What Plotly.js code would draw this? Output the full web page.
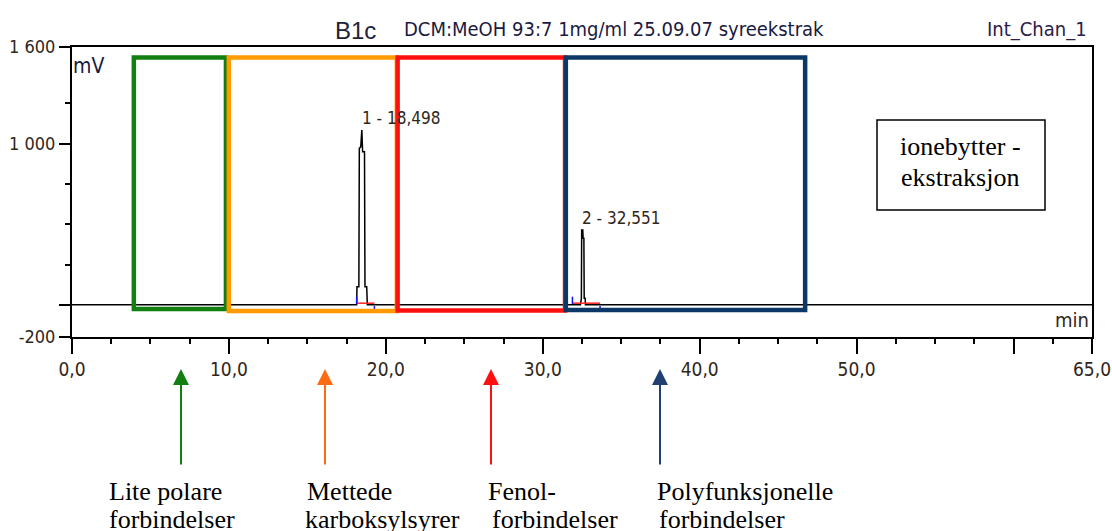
<!DOCTYPE html>
<html><head><meta charset="utf-8">
<script src="https://cdn.plot.ly/plotly-3.0.1.min.js"></script>
<style>html,body{margin:0;padding:0;background:#fff;}#chart{width:1112px;height:531px;}</style>
</head><body><div id="chart"></div>
<script>
// ---- chromatogram data (min, mV) ----
const timeMin  = [0, 18.14, 18.16, 18.28, 18.31, 18.40, 18.47, 18.52, 18.64, 18.67, 18.78, 18.82, 32.40, 32.46, 32.48, 32.55, 32.57, 32.62, 32.64, 32.70, 32.72, 65];
const signalMV = [0, 0, 112, 112, 971, 980, 1085, 950, 950, 112, 112, 0, 0, 40, 464, 464, 413, 413, 40, 40, 0, 0];

// ---- peaks ----
const peakNumbers = [1, 2];
const peakTimes   = [18.498, 32.551];
const peakApexT   = [18.47, 32.48];
const peakHeights = [1085, 464];
const integStart  = [18.14, 31.89];
const integEnd    = [19.27, 33.65];

// ---- fraction regions ----
const regionStart  = [3.94, 9.99, 20.75, 31.47];
const regionEnd    = [9.81, 20.70, 31.42, 46.72];
const regionTop    = [1535, 1535, 1535, 1535];
const regionBottom = [-26, -38, -35, -32];
const regionLine1  = ["Lite polare", "Mettede", "Fenol-", "Polyfunksjonelle"];
const regionLine2  = ["forbindelser", "karboksylsyrer", "forbindelser", "forbindelser"];

// ---- axis ticks ----
const xTickVals  = [0, 10, 20, 30, 40, 50, 60, 65];
const xTickText  = ["0,0", "10,0", "20,0", "30,0", "40,0", "50,0", "", "65,0"];
const xMinorVals = [2.5, 5, 7.5, 12.5, 15, 17.5, 22.5, 25, 27.5, 32.5, 35, 37.5, 42.5, 45, 47.5, 52.5, 55, 57.5, 62.5];
const yTickVals  = [1600, 1000, 0, -200];
const yTickText  = ["1 600", "1 000", "", "-200"];
const yMinorVals = [1250, 750, 500, 250];

// ---- texts ----
const sampleName = "B1c";
const sampleInfo = "DCM:MeOH 93:7 1mg/ml 25.09.07 syreekstrak";
const channelName = "Int_Chan_1";
const boxLines = ["ionebytter -", "ekstraksjon"];

// ---- styles ----
const regionColors = ["#118011", "#ff9a00", "#ff1010", "#0c3868"];
const arrowColors  = ["#118011", "#ff6a14", "#ff1010", "#1f4070"];
const narrow = "DejaVu Sans Condensed, DejaVu Sans, sans-serif";
const serif = "Liberation Serif, Times New Roman, serif";
const tickCol = "#30261a";

// pixel -> paper helpers (plot area 72..1092 x, 47..337 y)
const L = 72, R = 20, T = 47, B = 194, W = 1112 - L - R, H = 531 - T - B;
const xp = px => (px - L) / W;
const yp = py => (T + H - py) / H;

const traces = [];
traces.push({x: timeMin, y: signalMV, type: 'scatter', mode: 'lines',
  line: {color: '#000', width: 1.5}, hoverinfo: 'skip'});

// integration baselines & markers
const bx = [], by = [], tx = [], ty = [];
for (let i = 0; i < integStart.length; i++) {
  bx.push(integStart[i], integEnd[i], null); by.push(10, 10, null);
  tx.push(integStart[i], integStart[i], null); ty.push(5, 50, null);
  tx.push(integEnd[i], integEnd[i], null); ty.push(-8, -45, null);
}
traces.push({x: bx, y: by, type: 'scatter', mode: 'lines', line: {color: '#ff2020', width: 1.5}, hoverinfo: 'skip'});
traces.push({x: tx, y: ty, type: 'scatter', mode: 'lines', line: {color: '#1010ff', width: 1.5}, hoverinfo: 'skip'});

const shapes = [];
for (let i = 0; i < regionStart.length; i++) {
  shapes.push({type: 'rect', xref: 'x', yref: 'y', x0: regionStart[i], x1: regionEnd[i],
    y0: regionBottom[i], y1: regionTop[i], line: {color: regionColors[i], width: 4.5}, layer: 'above'});
}
// text box
shapes.push({type: 'rect', xref: 'paper', yref: 'paper', x0: xp(877), x1: xp(1045), y0: yp(210), y1: yp(120),
  line: {color: '#000', width: 1.5}, fillcolor: '#fff', layer: 'above'});

const annotations = [];
// header
annotations.push({text: sampleName, xref: 'paper', yref: 'paper', x: xp(355), y: yp(30), xanchor: 'center', yanchor: 'middle',
  showarrow: false, font: {family: 'Liberation Sans, Arial, sans-serif', size: 24, color: '#222238'}});
annotations.push({text: sampleInfo, xref: 'paper', yref: 'paper', x: xp(402), y: yp(29), xanchor: 'left', yanchor: 'middle',
  showarrow: false, font: {family: narrow, size: 20, color: '#1a1a40'}});
annotations.push({text: channelName, xref: 'paper', yref: 'paper', x: xp(1089), y: yp(29), xanchor: 'right', yanchor: 'middle',
  showarrow: false, font: {family: narrow, size: 20, color: '#2a2048'}});
// units
annotations.push({text: 'mV', xref: 'paper', yref: 'paper', x: xp(71), y: yp(66), xanchor: 'left', yanchor: 'middle',
  showarrow: false, font: {family: narrow, size: 21, color: '#1a1a40'}});
annotations.push({text: 'min', xref: 'paper', yref: 'paper', x: xp(1091), y: yp(320), xanchor: 'right', yanchor: 'middle',
  showarrow: false, font: {family: narrow, size: 20, color: tickCol}});
// peak labels
for (let i = 0; i < peakTimes.length; i++) {
  annotations.push({text: peakNumbers[i] + ' - ' + peakTimes[i].toFixed(3).replace('.', ','),
    xref: 'x', yref: 'y', x: peakApexT[i], y: peakHeights[i], xanchor: 'left', yanchor: 'bottom', yshift: 0, xshift: -2,
    showarrow: false, font: {family: narrow, size: 17, color: tickCol}});
}
// box text
annotations.push({text: boxLines[0], xref: 'paper', yref: 'paper', x: xp(960), y: yp(146), xanchor: 'center', yanchor: 'middle',
  showarrow: false, font: {family: serif, size: 26, color: '#000'}});
annotations.push({text: boxLines[1], xref: 'paper', yref: 'paper', x: xp(960), y: yp(177), xanchor: 'center', yanchor: 'middle',
  showarrow: false, font: {family: serif, size: 26, color: '#000'}});
// arrows + region labels
const arrowPx = [181, 325, 491, 660];
const line1Px = [107, 305, 486, 655];
const line2Px = [107, 303, 490, 657];
for (let i = 0; i < regionLine1.length; i++) {
  annotations.push({text: '', xref: 'paper', yref: 'paper', x: xp(arrowPx[i]), y: yp(369),
    showarrow: true, ax: 0, ay: 97, arrowhead: 2, arrowsize: 1.6, arrowwidth: 2, arrowcolor: arrowColors[i], standoff: 0});
  annotations.push({text: regionLine1[i], xref: 'paper', yref: 'paper', x: xp(line1Px[i]), y: yp(491), xanchor: 'left', yanchor: 'middle',
    showarrow: false, font: {family: serif, size: 26, color: '#000'}});
  annotations.push({text: regionLine2[i], xref: 'paper', yref: 'paper', x: xp(line2Px[i]), y: yp(519), xanchor: 'left', yanchor: 'middle',
    showarrow: false, font: {family: serif, size: 26, color: '#000'}});
}

const layout = {
  width: 1112, height: 531,
  margin: {l: L, r: R, t: T, b: B, pad: 0},
  paper_bgcolor: '#fff', plot_bgcolor: '#fff', showlegend: false,
  xaxis: {range: [0, 65], showgrid: false, zeroline: false, showline: true, mirror: true,
    linecolor: '#000', linewidth: 2, ticks: 'outside', ticklen: 15, tickwidth: 2, tickcolor: '#000',
    tickmode: 'array', tickvals: xTickVals, ticktext: xTickText, ticklabelstandoff: -1, ticklabeloverflow: 'allow',
    tickfont: {family: narrow, size: 19, color: tickCol},
    minor: {tickmode: 'array', tickvals: xMinorVals, ticks: 'outside', ticklen: 5, tickwidth: 2, tickcolor: '#000'}},
  yaxis: {range: [-200, 1600], showgrid: false, zeroline: false, showline: true, mirror: true,
    linecolor: '#000', linewidth: 2, ticks: 'outside', ticklen: 11, tickwidth: 2, tickcolor: '#000',
    tickmode: 'array', tickvals: yTickVals, ticktext: yTickText, ticklabelstandoff: 0, ticklabeloverflow: 'allow',
    tickfont: {family: narrow, size: 18, color: tickCol},
    minor: {tickmode: 'array', tickvals: yMinorVals, ticks: 'outside', ticklen: 5, tickwidth: 2, tickcolor: '#000'}},
  shapes: shapes, annotations: annotations
};

Plotly.newPlot('chart', traces, layout, {staticPlot: true, displayModeBar: false});
</script>
</body></html>
